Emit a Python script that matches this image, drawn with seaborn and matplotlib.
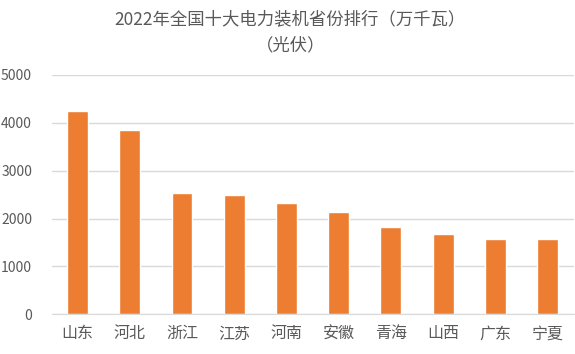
import matplotlib
matplotlib.use('Agg')
import matplotlib.pyplot as plt
import seaborn as sns
import pandas as pd

# Chart data
provinces = ['山东', '河北', '浙江', '江苏', '河南', '安徽', '青海', '山西', '广东', '宁夏']
capacity = [4240, 3850, 2530, 2490, 2320, 2135, 1820, 1675, 1570, 1570]
yticks = [0, 1000, 2000, 3000, 4000, 5000]

sns.set_style('white')
plt.rcParams['font.family'] = ['Noto Sans CJK SC', 'DejaVu Sans']

df = pd.DataFrame({'province': provinces, 'capacity': capacity})

fig = plt.figure(figsize=(5.75, 3.54), dpi=100)
ax = fig.add_axes([0.0896, 0.1122, 0.908, 0.676])
sns.barplot(data=df, x='province', y='capacity', color='#ED7D31',
            width=0.4, saturation=1, ax=ax)

ax.set_ylim(0, 5000)
ax.set_yticks(yticks)
ax.set_xlim(-0.5, len(provinces) - 0.5)
ax.yaxis.grid(True, color='#D9D9D9', linewidth=1)
ax.set_axisbelow(True)
for s in ['top', 'right', 'left']:
    ax.spines[s].set_visible(False)
ax.spines['bottom'].set_color('#D9D9D9')
ax.tick_params(length=0)
ax.tick_params(axis='y', labelsize=10, labelcolor='#595959', pad=14)
ax.tick_params(axis='x', labelsize=11.5, labelcolor='#595959', pad=8)
ax.set_xlabel('')
ax.set_ylabel('')

fig.text(0.505, 0.945, '2022年全国十大电力装机省份排行（万千瓦）', ha='center', va='center',
         fontsize=12.5, color='#595959')
fig.text(0.505, 0.872, '（光伏）', ha='center', va='center', fontsize=12.5, color='#595959')

fig.savefig('out.png', dpi=100)
